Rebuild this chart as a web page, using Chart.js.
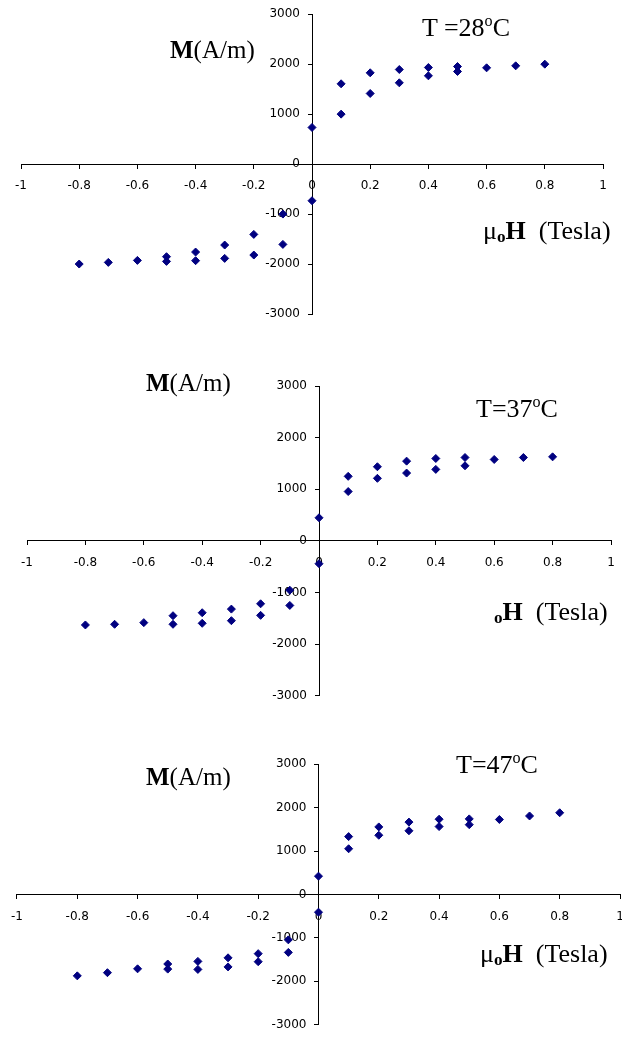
<!DOCTYPE html>
<html>
<head>
<meta charset="utf-8">
<title>Magnetization loops</title>
<script src="https://cdn.jsdelivr.net/npm/chart.js@4.4.1/dist/chart.umd.min.js"></script>
<style>
  html, body { margin: 0; padding: 0; background: #fff; width: 622px; height: 1039px; overflow: hidden; position: relative; }
  canvas { position: absolute; left: 0; }
  .lbl { position: absolute; font-family: "Liberation Serif", "Times New Roman", serif; color: #000; white-space: nowrap; line-height: 1; }
  .lbl b { font-weight: bold; }
  .lbl sup { font-size: 0.62em; position: relative; top: -0.62em; vertical-align: baseline; }
  .lbl sub { font-size: 0.66em; font-weight: bold; position: relative; top: 0.18em; vertical-align: baseline; }
</style>
</head>
<body>
<canvas id="c28" width="660" height="330" style="top:0px"></canvas>
<canvas id="c37" width="660" height="340" style="top:370px"></canvas>
<canvas id="c47" width="660" height="289" style="top:750px"></canvas>

<div class="lbl" style="left:170px; top:37px; font-size:25px;"><b>M</b>(A/m)</div>
<div class="lbl" style="left:422px; top:15px; font-size:26px;">T =28<sup>o</sup>C</div>
<div class="lbl" style="left:483px; top:218px; font-size:26px;">μ<sub>o</sub><b>H</b>&nbsp; (Tesla)</div>

<div class="lbl" style="left:146px; top:370px; font-size:25px;"><b>M</b>(A/m)</div>
<div class="lbl" style="left:476px; top:396px; font-size:26px;">T=37<sup>o</sup>C</div>
<div class="lbl" style="left:494px; top:599px; font-size:26px;"><sub>o</sub><b>H</b>&nbsp; (Tesla)</div>

<div class="lbl" style="left:146px; top:764px; font-size:25px;"><b>M</b>(A/m)</div>
<div class="lbl" style="left:456px; top:752px; font-size:26px;">T=47<sup>o</sup>C</div>
<div class="lbl" style="left:480px; top:941px; font-size:26px;">μ<sub>o</sub><b>H</b>&nbsp; (Tesla)</div>

<script>
// Applied field (Tesla) on the descending sweep (+0.8 -> -0.8) and the
// ascending return sweep where it separates from the descending one.
const fieldDown = [0.8, 0.7, 0.6, 0.5, 0.4, 0.3, 0.2, 0.1, 0, -0.1, -0.2, -0.3, -0.4, -0.5, -0.6, -0.7, -0.8];
const fieldUp   = [-0.5, -0.4, -0.3, -0.2, -0.1, 0, 0.1, 0.2, 0.3, 0.4, 0.5];

// Magnetization M (A/m) at 28 °C
const down28 = [2000, 1967, 1927, 1953, 1933, 1893, 1827, 1607, 733, -1000, -1407, -1620, -1760, -1853, -1927, -1967, -2000];
const up28   = [-1947, -1933, -1887, -1820, -1607, -733, 1000, 1413, 1627, 1767, 1853];

// Magnetization M (A/m) at 37 °C
const down37 = [1628, 1615, 1577, 1615, 1596, 1545, 1436, 1250, 448, -955, -1218, -1321, -1391, -1449, -1583, -1615, -1628];
const up37   = [-1615, -1596, -1545, -1442, -1250, -442, 956, 1212, 1314, 1385, 1455];

// Magnetization M (A/m) at 47 °C
const down47 = [1882, 1808, 1727, 1741, 1733, 1667, 1556, 1333, 422, -1044, -1362, -1458, -1540, -1600, -1711, -1800, -1873];
const up47   = [-1718, -1725, -1667, -1547, -1333, -407, 1053, 1364, 1467, 1564, 1608];

// Axis ticks and their labels
const xTickValues = [-1, -0.8, -0.6, -0.4, -0.2, 0, 0.2, 0.4, 0.6, 0.8, 1];
const xTickLabels = ['-1', '-0.8', '-0.6', '-0.4', '-0.2', '0', '0.2', '0.4', '0.6', '0.8', '1'];
const yTickValues = [-3000, -2000, -1000, 0, 1000, 2000, 3000];
const yTickLabels = ['-3000', '-2000', '-1000', '0', '1000', '2000', '3000'];

const MARK = '#000080';
const tickFont = { family: '"DejaVu Sans", "Liberation Sans", Arial, sans-serif', size: 12 };
// A y axis crossing at x = 0 draws its labels flush against the axis line;
// two en spaces keep them clear of the tick marks.
const Y_LABEL_GAP = '\u2002\u2002';

function pairs(xs, ys) {
  return xs.map((x, i) => ({ x: x, y: ys[i] }));
}

function loopChart(id, down, up, pad) {
  const markStyle = {
    pointStyle: 'rectRot',
    pointRadius: 4,
    pointBorderWidth: 1,
    pointBackgroundColor: MARK,
    pointBorderColor: MARK,
    showLine: false,
    clip: false
  };
  return new Chart(document.getElementById(id), {
    type: 'scatter',
    data: {
      datasets: [
        Object.assign({ label: 'descending field', data: pairs(fieldDown, down) }, markStyle),
        Object.assign({ label: 'ascending field', data: pairs(fieldUp, up) }, markStyle)
      ]
    },
    options: {
      responsive: false,
      animation: false,
      devicePixelRatio: 1,
      layout: { padding: pad },
      plugins: { legend: { display: false }, tooltip: { enabled: false } },
      scales: {
        x: {
          type: 'linear',
          min: -1,
          max: 1,
          position: { y: 0 },
          afterBuildTicks: (s) => { s.ticks = xTickValues.map(v => ({ value: v })); },
          ticks: {
            font: tickFont,
            color: '#000',
            padding: 11,
            maxRotation: 0,
            autoSkip: false,
            callback: (v, i) => xTickLabels[i]
          },
          grid: { drawOnChartArea: false, drawTicks: true, tickLength: 4, color: '#000' },
          border: { color: '#000', width: 1 }
        },
        y: {
          type: 'linear',
          min: -3000,
          max: 3000,
          position: { x: 0 },
          afterBuildTicks: (s) => { s.ticks = yTickValues.map(v => ({ value: v })); },
          ticks: {
            font: tickFont,
            color: '#000',
            padding: 7,
            autoSkip: false,
            callback: (v, i) => yTickLabels[i] + Y_LABEL_GAP
          },
          grid: { drawOnChartArea: false, drawTicks: true, tickLength: 4, color: '#000' },
          border: { color: '#000', width: 1 }
        }
      }
    }
  });
}

loopChart('c28', down28, up28, { left: 21, right: 57, top: 14, bottom: 16 });
loopChart('c37', down37, up37, { left: 27, right: 49, top: 16, bottom: 12 });
loopChart('c47', down47, up47, { left: 13, right: 40, top: 12, bottom: 8 });
</script>
</body>
</html>
